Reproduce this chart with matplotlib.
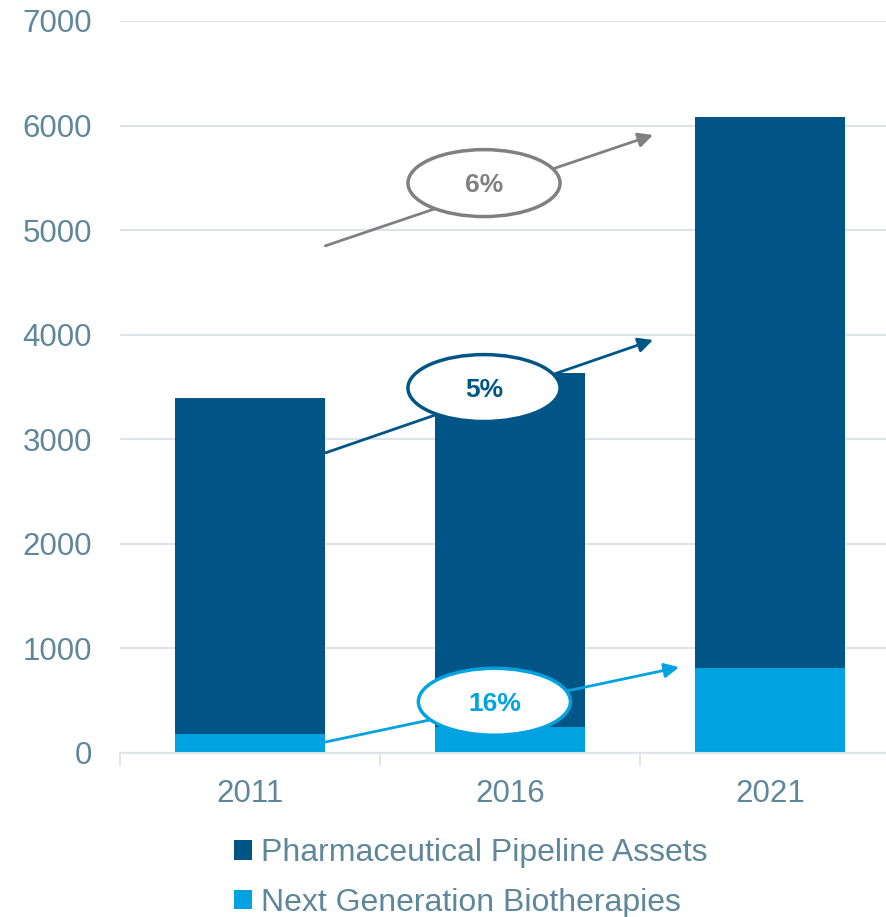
import matplotlib
matplotlib.use('Agg')
import matplotlib.pyplot as plt
import matplotlib.patches as patches
import numpy as np

plt.rcParams['font.family'] = ['Liberation Sans', 'DejaVu Sans']

# данные
years = ['2011', '2016', '2021']
next_gen = [180, 250, 810]
pharma = [3215, 3385, 5270]

# подписи CAGR
cagr_labels = ['6%', '5%', '16%']
cagr_colors = ['#808080', '#005587', '#00a3e0']
# стрелки: (x0, y0, x1, y1), эллипсы: (xc, yc)
arrow_pos = [(0.29, 4850, 1.55, 5910),
             (0.29, 2870, 1.55, 3950),
             (0.29, 105, 1.65, 820)]
ellipse_pos = [(0.90, 5450), (0.90, 3490), (0.94, 490)]

dark = '#005587'
light = '#00a3e0'
text_col = '#5e879a'
grid_col = '#dde3e8'

fig = plt.figure(figsize=(8.87, 9.17), dpi=100)
ax = fig.add_axes([120 / 887, 1 - 753 / 917, 780 / 887, 732 / 917])

x = np.arange(len(years))
ax.bar(x, next_gen, width=0.575, color=light, label='Next Generation Biotherapies', zorder=2)
ax.bar(x, pharma, width=0.575, bottom=next_gen, color=dark, label='Pharmaceutical Pipeline Assets', zorder=2)

ax.set_xlim(-0.5, 2.5)
ax.set_ylim(0, 7000)
ax.set_yticks(range(0, 7001, 1000))
ax.set_xticks(x)
ax.set_xticklabels(years)
ax.set_xticks([-0.5, 0.5, 1.5, 2.5], minor=True)
ax.tick_params(axis='x', which='major', length=0, pad=19, labelsize=22.5, labelcolor=text_col)
ax.tick_params(axis='x', which='minor', length=9, width=1.3, color=grid_col)
ax.tick_params(axis='y', length=0, pad=20, labelsize=22.5, labelcolor=text_col)

ax.grid(axis='y', color=grid_col, linewidth=1.5, zorder=0)
for s in ['top', 'right', 'left']:
    ax.spines[s].set_visible(False)
ax.spines['bottom'].set_color(grid_col)
ax.spines['bottom'].set_linewidth(1.5)

# стрелки роста с эллипсами
for lab, col, (x0, y0, x1, y1), (xc, yc) in zip(cagr_labels, cagr_colors, arrow_pos, ellipse_pos):
    ax.annotate('', xy=(x1, y1), xytext=(x0, y0),
                arrowprops=dict(arrowstyle='-|>', color=col, lw=2, mutation_scale=22,
                                shrinkA=0, shrinkB=0), zorder=4)
    e = patches.Ellipse((xc, yc), width=0.585, height=640, facecolor='white',
                        edgecolor=col, linewidth=2.5, zorder=5)
    ax.add_patch(e)
    ax.text(xc, yc - 20, lab, ha='center', va='center', fontsize=19, fontweight='bold',
            color=col, zorder=6)

handles, labels = ax.get_legend_handles_labels()
leg = fig.legend(handles[::-1], labels[::-1], loc='center left',
                 bbox_to_anchor=(234 / 887, 1 - 878 / 917), frameon=False,
                 fontsize=23, handlelength=0.55, handleheight=0.55,
                 handletextpad=0.3, labelspacing=0.6, borderpad=0, borderaxespad=0)
for t in leg.get_texts():
    t.set_color(text_col)

plt.savefig('out.png', dpi=100)
